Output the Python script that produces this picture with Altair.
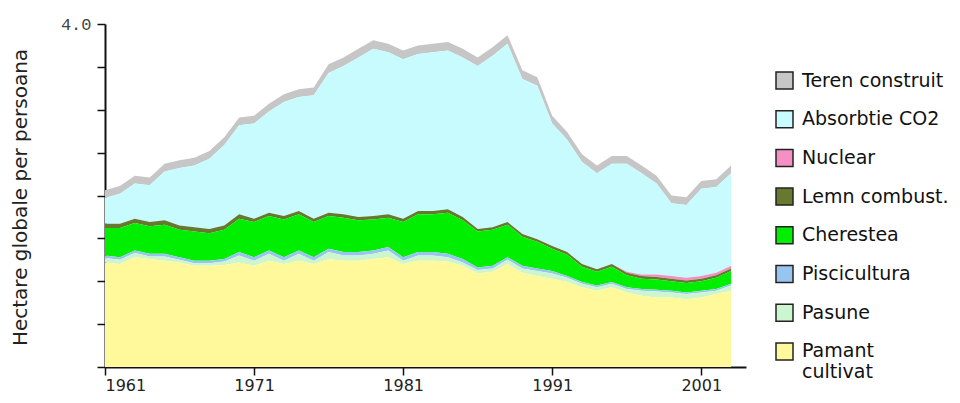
import altair as alt
import pandas as pd

years = list(range(1961, 2004))

pamant_cultivat = [1.22, 1.20, 1.28, 1.26, 1.24, 1.22, 1.18, 1.18, 1.19, 1.22,
                   1.18, 1.24, 1.20, 1.24, 1.20, 1.26, 1.24, 1.24, 1.26, 1.28,
                   1.20, 1.24, 1.24, 1.23, 1.18, 1.09, 1.11, 1.20, 1.10, 1.06,
                   1.03, 0.99, 0.93, 0.89, 0.93, 0.87, 0.83, 0.81, 0.81, 0.79,
                   0.81, 0.85, 0.89]
pasune = [0.05, 0.05, 0.05, 0.03, 0.05, 0.03, 0.03, 0.03, 0.04, 0.08,
          0.06, 0.08, 0.04, 0.08, 0.04, 0.08, 0.06, 0.06, 0.06, 0.08,
          0.04, 0.06, 0.06, 0.05, 0.04, 0.04, 0.04, 0.05, 0.05, 0.06,
          0.06, 0.05, 0.04, 0.04, 0.04, 0.04, 0.06, 0.07, 0.06, 0.06,
          0.06, 0.04, 0.06]
piscicultura = [0.03, 0.03, 0.03, 0.03, 0.03, 0.03, 0.03, 0.03, 0.03, 0.04,
                0.04, 0.04, 0.04, 0.04, 0.04, 0.04, 0.04, 0.04, 0.04, 0.04,
                0.04, 0.04, 0.04, 0.04, 0.04, 0.03, 0.03, 0.03, 0.03, 0.03,
                0.03, 0.02, 0.02, 0.02, 0.02, 0.02, 0.02, 0.02, 0.02, 0.02,
                0.02, 0.02, 0.02]
cherestea = [0.32, 0.34, 0.32, 0.32, 0.34, 0.32, 0.34, 0.32, 0.34, 0.39,
             0.41, 0.40, 0.44, 0.42, 0.41, 0.38, 0.40, 0.37, 0.36, 0.34,
             0.41, 0.44, 0.44, 0.48, 0.45, 0.42, 0.42, 0.38, 0.34, 0.31,
             0.26, 0.25, 0.18, 0.16, 0.18, 0.14, 0.12, 0.12, 0.11, 0.11,
             0.11, 0.13, 0.15]
lemn_combust = [0.05, 0.05, 0.05, 0.05, 0.05, 0.05, 0.05, 0.05, 0.05, 0.05,
                0.04, 0.04, 0.04, 0.04, 0.04, 0.04, 0.04, 0.04, 0.04, 0.04,
                0.04, 0.04, 0.04, 0.04, 0.04, 0.03, 0.03, 0.03, 0.03, 0.03,
                0.03, 0.03, 0.03, 0.03, 0.03, 0.03, 0.03, 0.03, 0.03, 0.03,
                0.03, 0.03, 0.03]
nuclear = [0.0, 0.0, 0.0, 0.0, 0.0, 0.0, 0.0, 0.0, 0.0, 0.0,
           0.0, 0.0, 0.0, 0.0, 0.0, 0.0, 0.0, 0.0, 0.0, 0.0,
           0.0, 0.0, 0.0, 0.0, 0.0, 0.0, 0.0, 0.0, 0.0, 0.0,
           0.0, 0.0, 0.0, 0.0, 0.0, 0.01, 0.02, 0.03, 0.03, 0.03,
           0.03, 0.03, 0.03]
absorbtie_co2 = [0.30, 0.35, 0.41, 0.43, 0.57, 0.67, 0.72, 0.82, 0.94, 1.04,
                 1.11, 1.18, 1.33, 1.33, 1.44, 1.63, 1.73, 1.86, 1.95, 1.89,
                 1.86, 1.83, 1.85, 1.85, 1.86, 1.90, 2.00, 2.08, 1.81, 1.79,
                 1.43, 1.31, 1.19, 1.12, 1.17, 1.26, 1.18, 1.06, 0.85, 0.85,
                 1.02, 1.00, 1.08]
teren_construit = [0.09, 0.09, 0.09, 0.09, 0.09, 0.09, 0.09, 0.09, 0.09, 0.09,
                   0.09, 0.09, 0.09, 0.09, 0.09, 0.10, 0.10, 0.10, 0.10, 0.10,
                   0.10, 0.10, 0.10, 0.10, 0.10, 0.10, 0.10, 0.10, 0.10, 0.10,
                   0.09, 0.09, 0.09, 0.09, 0.09, 0.09, 0.09, 0.09, 0.09, 0.09,
                   0.09, 0.09, 0.09]

categories = ["Teren construit", "Absorbtie CO2", "Nuclear", "Lemn combust.",
              "Cherestea", "Piscicultura", "Pasune", "Pamant cultivat"]
colors = ["#c6c6c6", "#c8fbfd", "#f590c4", "#66792f",
          "#00ee00", "#98c4f0", "#ccf6cf", "#fff99c"]
series = [teren_construit, absorbtie_co2, nuclear, lemn_combust,
          cherestea, piscicultura, pasune, pamant_cultivat]

x_ticks = [1961, 1971, 1981, 1991, 2001]
y_ticks = [0, 0.5, 1.0, 1.5, 2.0, 2.5, 3.0, 3.5, 4.0]

rows = []
n = len(categories)
for i, (name, vals) in enumerate(zip(categories, series)):
    for yr, v in zip(years, vals):
        rows.append({"an": yr, "categorie": name, "valoare": v, "ordine": n - 1 - i})
df = pd.DataFrame(rows)

chart = alt.Chart(df).mark_area(interpolate="linear").encode(
    x=alt.X("an:Q",
            scale=alt.Scale(domain=[1961, 2004], nice=False, zero=False),
            axis=alt.Axis(values=x_ticks, format="d", title=None, grid=False,
                          labelFont="DejaVu Sans", labelFontSize=16, labelColor="#222",
                          tickSize=8, tickWidth=1.5, tickColor="#111",
                          domainColor="#111", domainWidth=2, labelPadding=2)),
    y=alt.Y("valoare:Q", stack="zero",
            scale=alt.Scale(domain=[0, 4], nice=False),
            axis=alt.Axis(values=y_ticks, grid=False,
                          labelExpr="datum.value == 4 ? '4.0' : ''",
                          labelFont="Liberation Mono", labelFontSize=17, labelColor="#444",
                          tickSize=8, tickWidth=1.5, tickColor="#111",
                          domainColor="#111", domainWidth=2, labelPadding=6,
                          title="Hectare globale per persoana",
                          titleFont="DejaVu Sans", titleFontSize=20, titleFontWeight="normal",
                          titleColor="#222", titleX=-85, titleY=173,
                          titleBaseline="middle", titleAlign="center")),
    color=alt.Color("categorie:N",
                    scale=alt.Scale(domain=categories, range=colors),
                    legend=alt.Legend(title=None, orient="none", legendX=670, legendY=47,
                                      symbolType="square", symbolSize=289,
                                      symbolStrokeColor="#222", symbolStrokeWidth=1.5,
                                      symbolOpacity=1,
                                      labelFont="DejaVu Sans", labelFontSize=19,
                                      labelColor="#111", labelOffset=8, labelLimit=300,
                                      rowPadding=15.7, padding=0,
                                      labelExpr="datum.label == 'Pamant cultivat' ? ['Pamant', 'cultivat'] : datum.label")),
    order=alt.Order("ordine:Q", sort="ascending"),
).properties(
    width=641, height=343,
    autosize=alt.AutoSizeParams(type="none"),
    padding={"left": 97, "top": 16, "right": 204, "bottom": 28},
).configure_view(strokeWidth=0)

chart.save("out.html", embed_options={"renderer": "svg", "actions": False})
